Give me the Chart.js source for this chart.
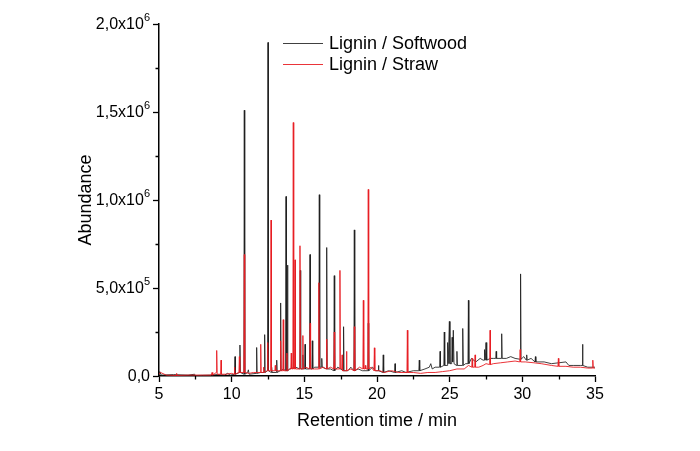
<!DOCTYPE html>
<html>
<head>
<meta charset="utf-8">
<script src="https://cdn.jsdelivr.net/npm/chart.js@4.4.1/dist/chart.umd.min.js"></script>
<style>
  html, body { margin: 0; padding: 0; background: #fff; }
  #wrap { position: relative; width: 700px; height: 451px; }
</style>
</head>
<body>
<div id="wrap"><canvas id="c" width="700" height="451"></canvas></div>
<script>
// ---- Data (abundance in units of 10^5) ----
const seriesNames = ['Lignin / Softwood', 'Lignin / Straw'];

const swTime = [
  5.0,5.05,5.15,6.0,7.0,7.45,7.5,8.5,9.0,9.5,9.72,9.9,
  10.2,10.23,10.26,10.54,10.57,10.6,10.84,10.87,10.9,11.1,11.15,11.2,11.69,11.72,11.75,12.0,
  12.24,12.27,12.3,12.47,12.5,12.53,12.72,12.75,12.78,13.07,13.1,13.13,13.34,13.37,13.4,13.55,13.71,13.74,13.77,13.81,13.84,13.87,14.0,
  14.4,14.69,14.72,14.75,14.87,14.9,14.93,15.02,15.05,15.08,15.36,15.39,15.42,15.52,15.55,15.58,15.7,16.0,16.03,16.06,16.17,16.2,16.23,
  16.51,16.54,16.57,16.8,17.03,17.06,17.09,17.3,17.5,17.67,17.7,17.73,18.0,18.2,18.41,18.44,18.47,18.7,19.0,19.37,19.4,19.43,19.7,19.9,20.07,20.1,20.13,
  20.4,20.43,20.46,20.8,21.21,21.24,21.27,21.7,22.0,22.5,22.88,22.91,22.94,23.3,23.6,23.7,23.8,24.0,
  24.31,24.34,24.37,24.6,24.63,24.66,24.83,24.86,24.9,24.98,25.02,25.14,25.17,25.21,25.25,25.3,25.47,25.5,25.53,25.87,25.9,25.94,26.1,26.26,26.29,26.32,26.5,
  26.8,27.1,27.3,27.37,27.4,27.45,27.5,27.55,27.8,28.0,28.17,28.2,28.23,28.55,28.58,28.61,28.9,29.2,29.5,29.85,29.88,29.91,
  30.1,30.27,30.3,30.33,30.6,30.87,30.9,30.93,31.5,32.0,32.5,33.0,33.2,33.5,34.0,34.11,34.14,34.17,34.5,35.0
];
const swAbundE5 = [
  0.1,0.25,0.05,0.08,0.05,0.1,0.03,0.05,0.08,0.05,0.15,0.05,
  0.1,1.1,0.1,0.2,1.76,0.2,0.1,15.1,0.1,0.2,0.35,0.1,0.15,1.62,0.15,0.2,
  0.2,2.35,0.2,0.3,18.95,0.3,0.2,0.5,0.2,0.2,0.9,0.2,0.3,4.15,0.3,0.4,0.3,10.2,0.3,0.3,6.3,0.3,0.4,
  0.5,0.4,6.0,0.4,0.4,1.2,0.4,0.4,1.8,0.4,0.4,6.9,0.4,0.4,2.0,0.4,0.5,0.5,10.3,0.5,0.5,1.0,0.5,
  0.4,7.3,0.4,0.4,0.3,5.7,0.3,0.5,0.4,0.3,2.8,0.3,0.3,0.5,0.3,8.3,0.3,0.4,0.3,0.3,3.0,0.3,0.5,0.3,0.3,0.6,0.3,
  0.2,1.2,0.2,0.3,0.2,0.7,0.2,0.3,0.2,0.3,0.3,0.9,0.3,0.4,0.5,0.7,0.4,0.5,
  0.5,1.4,0.5,0.6,2.5,0.6,0.6,1.9,0.7,3.1,0.7,0.7,2.2,0.8,2.6,0.7,0.6,1.4,0.6,0.6,2.7,0.6,0.7,0.7,4.3,0.7,1.0,
  0.8,1.0,0.9,0.9,1.5,0.9,1.9,0.9,1.0,1.0,1.0,1.4,1.0,1.0,2.4,1.0,1.0,1.1,1.0,0.95,5.8,0.95,
  1.1,0.9,1.2,0.9,1.0,0.8,1.1,0.8,0.8,0.7,0.75,0.8,0.6,0.6,0.6,0.6,1.8,0.6,0.5,0.5
];

const stTime = [
  5.0,5.1,5.5,6.17,6.2,6.23,7.0,8.0,8.6,8.65,8.7,8.94,8.97,9.0,9.24,9.27,9.3,9.6,10.0,
  10.17,10.2,10.23,10.5,10.53,10.56,10.84,10.87,10.9,11.2,11.5,11.97,12.0,12.03,
  12.17,12.2,12.23,12.45,12.48,12.51,12.68,12.71,12.74,12.97,13.0,13.03,13.2,13.34,13.37,13.4,13.52,13.55,13.58,13.77,13.8,13.83,14.0,
  14.07,14.1,14.13,14.21,14.24,14.27,14.33,14.36,14.39,14.67,14.7,14.73,14.87,14.9,14.93,15.1,15.37,15.4,15.43,15.7,15.97,16.0,16.03,16.3,
  16.51,16.54,16.57,16.8,17.03,17.06,17.09,17.42,17.45,17.48,17.57,17.6,17.63,17.87,17.9,17.93,18.2,18.41,18.44,18.47,18.8,19.03,19.06,19.09,19.17,19.2,19.23,19.37,19.4,19.43,19.6,19.79,19.82,19.85,20.2,
  20.5,21.0,21.5,22.06,22.09,22.12,22.5,23.0,23.5,24.0,24.5,25.0,25.5,26.0,26.3,
  26.52,26.55,26.58,26.72,26.75,26.78,27.0,27.3,27.5,27.75,27.78,27.81,28.0,28.5,29.0,29.5,29.82,29.85,29.88,
  30.2,30.8,31.3,32.0,32.45,32.48,32.51,33.0,33.5,34.0,34.5,34.82,34.85,34.88,35.0
];
const stAbundE5 = [
  0.1,0.2,0.05,0.03,0.15,0.03,0.05,0.05,0.05,0.2,0.05,0.2,1.45,0.1,0.1,0.9,0.1,0.1,0.15,
  0.1,0.5,0.1,0.2,1.1,0.2,0.2,6.9,0.2,0.15,0.2,0.2,1.8,0.2,
  0.2,0.5,0.2,0.3,1.9,0.3,0.3,8.86,0.3,0.3,0.6,0.3,0.3,0.3,2.0,0.3,0.3,3.2,0.3,0.3,1.3,0.3,0.4,
  0.4,1.3,0.4,0.4,14.4,0.4,0.4,6.6,0.4,0.4,7.4,0.4,0.4,2.3,0.4,0.5,0.4,3.0,0.4,0.4,0.4,5.3,0.4,0.5,
  0.4,2.1,0.4,0.5,0.4,2.5,0.4,0.4,6.0,0.4,0.4,1.2,0.3,0.3,1.4,0.3,0.4,0.3,2.8,0.3,0.5,0.4,4.3,0.4,0.4,0.6,0.4,0.4,10.6,0.4,0.5,0.3,1.6,0.3,0.3,
  0.2,0.3,0.2,0.2,2.6,0.2,0.2,0.15,0.2,0.2,0.25,0.3,0.4,0.4,0.6,
  0.5,1.0,0.5,0.5,1.2,0.5,0.5,0.6,0.7,0.65,2.6,0.65,0.7,0.75,0.8,0.85,0.8,1.5,0.8,
  0.8,0.75,0.7,0.6,0.55,1.0,0.55,0.55,0.5,0.5,0.45,0.45,0.9,0.45,0.45
];

const xTickValues = [5, 10, 15, 20, 25, 30, 35];
const xTickLabels = ['5', '10', '15', '20', '25', '30', '35'];
const yTickValues = [0, 500000, 1000000, 1500000, 2000000];
const yTickLabels = ['0,0', '5,0x10\u2075', '1,0x10\u2076', '1,5x10\u2076', '2,0x10\u2076'];
const xTitle = 'Retention time / min';
const yTitle = 'Abundance';

// ---- Build chart ----
const FONT = "'Liberation Sans', Arial, sans-serif";
const colors = ['rgba(30,30,30,0.85)', 'rgba(232,30,36,0.9)'];
const toPoints = (t, v) => t.map((x, i) => ({ x: x, y: v[i] * 1e5 }));
const SUP = { '\u2070': '0', '\u00B9': '1', '\u00B2': '2', '\u00B3': '3', '\u2074': '4',
              '\u2075': '5', '\u2076': '6', '\u2077': '7', '\u2078': '8', '\u2079': '9' };

const minorTicks = {
  id: 'minorTicks',
  afterDraw(chart) {
    const ctx = chart.ctx, xs = chart.scales.x, ys = chart.scales.y;
    ctx.save();
    ctx.strokeStyle = '#000';
    ctx.lineWidth = 1.3;
    ctx.beginPath();
    for (let i = 0; i < xTickValues.length - 1; i++) {
      const px = Math.round(xs.getPixelForValue((xTickValues[i] + xTickValues[i + 1]) / 2)) + 0.5;
      ctx.moveTo(px, ys.bottom); ctx.lineTo(px, ys.bottom + 3.5);
    }
    for (let i = 0; i < yTickValues.length - 1; i++) {
      const py = Math.round(ys.getPixelForValue((yTickValues[i] + yTickValues[i + 1]) / 2)) + 0.5;
      ctx.moveTo(xs.left, py); ctx.lineTo(xs.left - 3.5, py);
    }
    ctx.stroke();
    ctx.restore();
  }
};

// y tick labels with a raised exponent
const yLabels = {
  id: 'yLabels',
  afterDraw(chart) {
    const ctx = chart.ctx, ys = chart.scales.y;
    const right = ys.right - 6 - 3;
    ctx.save();
    ctx.fillStyle = '#000';
    ctx.textBaseline = 'middle';
    ctx.textAlign = 'left';
    yTickValues.forEach((v, i) => {
      const lbl = yTickLabels[i];
      let base = '', exp = '';
      for (const ch of lbl) { if (SUP[ch]) exp += SUP[ch]; else base += ch; }
      const y = ys.getPixelForValue(v);
      ctx.font = '11px ' + FONT;
      const ew = exp ? ctx.measureText(exp).width : 0;
      ctx.font = '16px ' + FONT;
      const bw = ctx.measureText(base).width;
      ctx.fillText(base, right - ew - bw, y + 1);
      if (exp) { ctx.font = '11px ' + FONT; ctx.fillText(exp, right - ew, y - 6); }
    });
    ctx.restore();
  }
};

const legendInPlot = {
  id: 'legendInPlot',
  afterDraw(chart) {
    const ctx = chart.ctx, area = chart.chartArea;
    ctx.save();
    ctx.font = '18px ' + FONT;
    ctx.textBaseline = 'middle';
    chart.data.datasets.forEach((ds, i) => {
      const x0 = area.left + 124, y = area.top + 19 + i * 21;
      ctx.strokeStyle = ds.borderColor;
      ctx.lineWidth = 1;
      ctx.beginPath();
      ctx.moveTo(x0, Math.round(y) + 0.5); ctx.lineTo(x0 + 40, Math.round(y) + 0.5);
      ctx.stroke();
      ctx.fillStyle = '#000';
      ctx.fillText(ds.label, x0 + 46, y + 1);
    });
    ctx.restore();
  }
};

new Chart(document.getElementById('c'), {
  type: 'scatter',
  data: {
    datasets: [
      { label: seriesNames[0], data: toPoints(swTime, swAbundE5), borderColor: colors[0],
        backgroundColor: colors[0], showLine: true, pointRadius: 0, borderWidth: 1, order: 1 },
      { label: seriesNames[1], data: toPoints(stTime, stAbundE5), borderColor: colors[1],
        backgroundColor: colors[1], showLine: true, pointRadius: 0, borderWidth: 1, order: 0 }
    ]
  },
  options: {
    responsive: false,
    animation: false,
    layout: { padding: { left: 71, right: 105, top: 24, bottom: 15 } },
    plugins: { legend: { display: false }, tooltip: { enabled: false } },
    scales: {
      x: {
        type: 'linear', min: 5, max: 35,
        afterFit(s) { s.height = 60; },
        afterBuildTicks(s) { s.ticks = xTickValues.map(v => ({ value: v })); },
        grid: { display: true, drawOnChartArea: false, drawTicks: true, tickLength: 6, tickColor: '#000', tickWidth: 1.3 },
        border: { display: true, color: '#000', width: 1.5 },
        ticks: { color: '#000', font: { family: FONT, size: 16 }, padding: 3, maxRotation: 0,
          callback: (v) => { const i = xTickValues.indexOf(v); return i >= 0 ? xTickLabels[i] : ''; } },
        title: { display: true, text: xTitle, color: '#000', font: { family: FONT, size: 18 } }
      },
      y: {
        type: 'linear', min: 0, max: 2000000,
        afterFit(s) { s.width = 88; },
        afterBuildTicks(s) { s.ticks = yTickValues.map(v => ({ value: v })); },
        grid: { display: true, drawOnChartArea: false, drawTicks: true, tickLength: 6, tickColor: '#000', tickWidth: 1.3 },
        border: { display: true, color: '#000', width: 1.5 },
        ticks: { display: false },
        title: { display: true, text: yTitle, color: '#000', font: { family: FONT, size: 18 } }
      }
    }
  },
  plugins: [minorTicks, yLabels, legendInPlot]
});
</script>
</body>
</html>
